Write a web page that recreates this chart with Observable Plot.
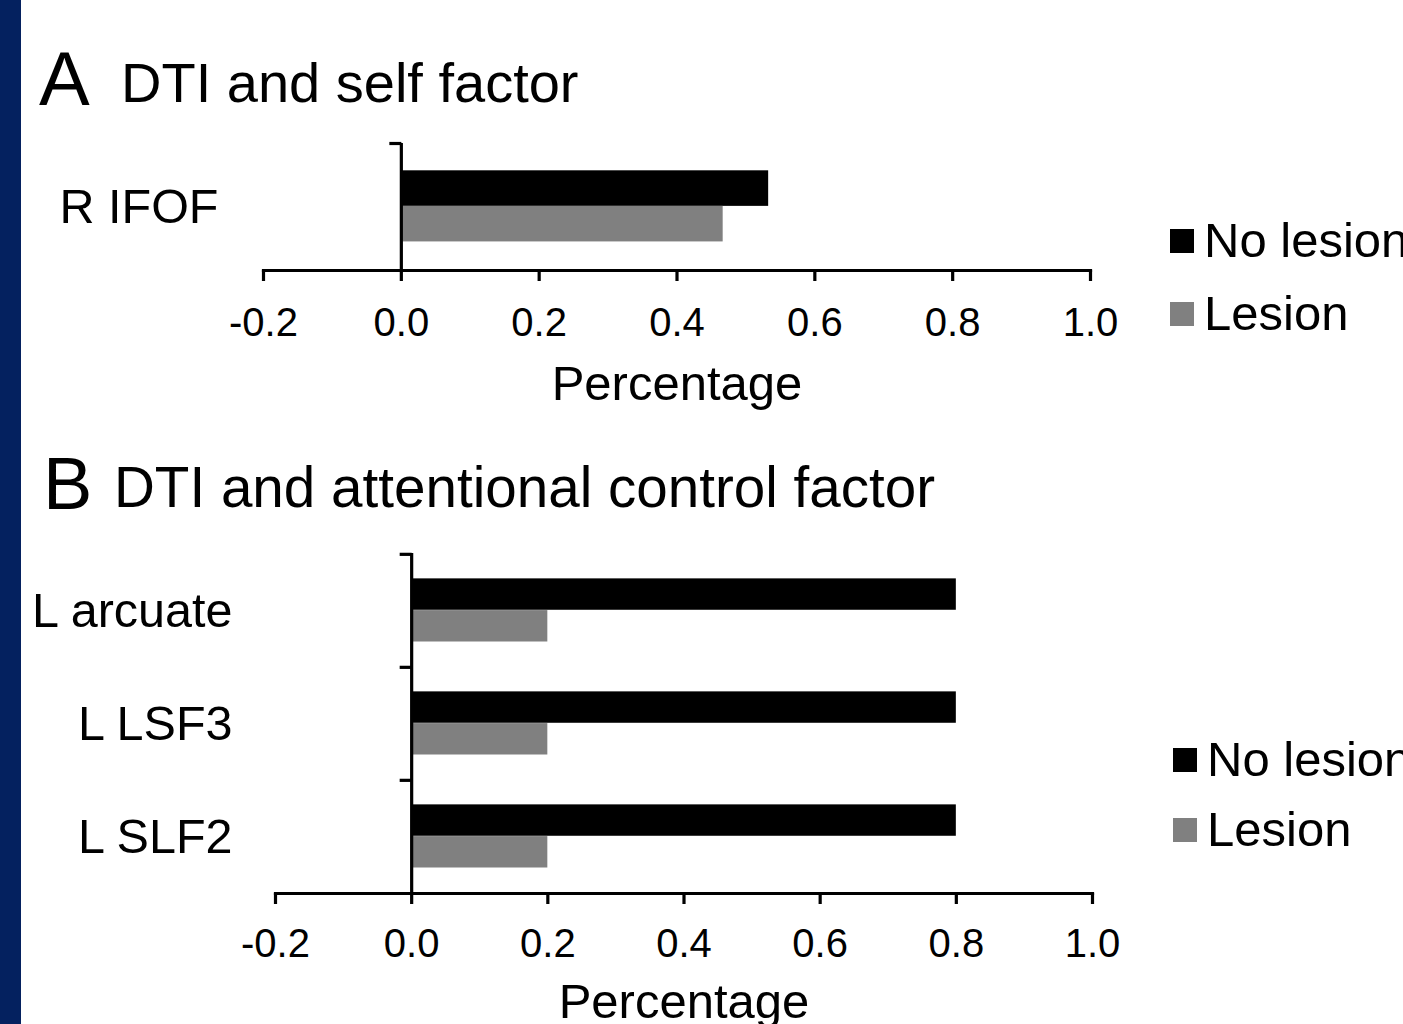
<!DOCTYPE html>
<html>
<head>
<meta charset="utf-8">
<script src="https://cdn.jsdelivr.net/npm/d3@7"></script>
<script src="https://cdn.jsdelivr.net/npm/@observablehq/plot@0.6"></script>
<style>
  html, body { margin: 0; padding: 0; background: #fff; }
  body { width: 1403px; height: 1024px; overflow: hidden; position: relative;
         font-family: "Liberation Sans", Arial, sans-serif; color: #000; }
  .strip { position: absolute; left: 0; top: 0; width: 21px; height: 1024px; background: #04215f; }
  .abs { position: absolute; white-space: nowrap; line-height: 1; }
  .panel { position: absolute; left: 0; }
  .sw { position: absolute; width: 24px; height: 24px; }
</style>
</head>
<body>
<div class="strip"></div>
<div id="root"></div>
<script>
// ---------------- data ----------------
const panelALetter = "A";
const panelATitle = "DTI and self factor";
const panelACategories = ["R IFOF"];
const panelANoLesion = [0.533];
const panelALesion = [0.467];

const panelBLetter = "B";
const panelBTitle = "DTI and attentional control factor";
const panelBCategories = ["L arcuate", "L LSF3", "L SLF2"];
const panelBNoLesion = [0.8, 0.8, 0.8];
const panelBLesion = [0.2, 0.2, 0.2];

const seriesNames = ["No lesion", "Lesion"];
const xTicks = [-0.2, 0.0, 0.2, 0.4, 0.6, 0.8, 1.0];
const xDomain = [-0.2, 1.0];
const axisTitle = "Percentage";

// ---------------- styles / layout ----------------
const seriesColors = {"No lesion": "#000000", "Lesion": "#808080"};
const FONT = '"Liberation Sans", Arial, sans-serif';
const root = document.getElementById("root");

function addText(text, left, top, size) {
  const d = document.createElement("div");
  d.className = "abs";
  d.style.left = left + "px";
  d.style.top = top + "px";
  d.style.fontSize = size + "px";
  d.textContent = text;
  root.appendChild(d);
  return d;
}

function addLegend(left, top1, top2) {
  const tops = [top1, top2];
  seriesNames.forEach((name, i) => {
    const sw = document.createElement("div");
    sw.className = "sw";
    sw.style.left = left + "px";
    sw.style.top = tops[i] + "px";
    sw.style.background = seriesColors[name];
    root.appendChild(sw);
    addText(name, left + 34, tops[i] + 24 + 4 - 0.8465 * 49, 49);
  });
}

function makePanel(cats, noLesion, lesion, L) {
  const rows = [];
  cats.forEach((c, i) => {
    rows.push({cat: c, series: seriesNames[0], value: noLesion[i]});
    rows.push({cat: c, series: seriesNames[1], value: lesion[i]});
  });
  const innerH = L.height - L.marginTop - L.marginBottom;
  const bw = innerH / cats.length;
  const b0 = 0.215, b1 = 0.495, b2 = 0.775; // Excel-like gap fractions
  const tickSymbol = {draw(ctx) { ctx.moveTo(-12, 0); ctx.lineTo(0, 0); }};

  const chart = Plot.plot({
    width: 1403,
    height: L.height,
    marginTop: L.marginTop,
    marginBottom: L.marginBottom,
    marginLeft: L.marginLeft,
    marginRight: L.marginRight,
    style: {fontFamily: FONT, fontSize: "40px", color: "#000", background: "transparent", overflow: "visible"},
    x: {domain: xDomain, label: null},
    y: {domain: cats, padding: 0, label: null},
    marks: [
      Plot.barX(rows.filter(d => d.series === seriesNames[0]), {
        x1: () => 0, x2: "value", y: "cat", fill: seriesColors[seriesNames[0]],
        insetTop: b0 * bw, insetBottom: (1 - b1) * bw
      }),
      Plot.barX(rows.filter(d => d.series === seriesNames[1]), {
        x1: () => 0, x2: "value", y: "cat", fill: seriesColors[seriesNames[1]],
        insetTop: b1 * bw, insetBottom: (1 - b2) * bw
      }),
      Plot.ruleX([0], {stroke: "#000", strokeWidth: 3.2}),
      Plot.dot(cats, {x: () => 0, y: d => d, dy: -bw / 2, symbol: tickSymbol,
        stroke: "#000", strokeWidth: 3.2, fill: "none", strokeLinejoin: "round"}),
      Plot.frame({anchor: "bottom", stroke: "#000", strokeWidth: 3.2}),
      Plot.axisX({ticks: xTicks, tickSize: 11, tickPadding: L.tickPad, strokeWidth: 3.2,
        tickFormat: d => d.toFixed(1), fontSize: 40, label: null}),
      Plot.axisY({anchor: "left", tickSize: 0, tickPadding: L.catPad, fontSize: 48.5, label: null}),
      Plot.text([axisTitle], {frameAnchor: "bottom", dy: L.titleDy, fontSize: 49, text: d => d})
    ]
  });
  const wrap = document.createElement("div");
  wrap.className = "panel";
  wrap.style.top = L.top + "px";
  wrap.appendChild(chart);
  root.appendChild(wrap);
}

// Panel A
addText(panelALetter, 39, 105 - 0.8465 * 76, 76);
addText(panelATitle, 121, 102 - 0.8465 * 56, 56);
makePanel(panelACategories, panelANoLesion, panelALesion, {
  top: 100, height: 320, marginTop: 43, marginBottom: 150,
  marginLeft: 263, marginRight: 313, tickPad: 26, catPad: 45, titleDy: 129
});
addLegend(1170, 229, 302);

// Panel B
addText(panelBLetter, 43, 510 - 0.8465 * 74, 74);
addText(panelBTitle, 114, 508 - 0.8465 * 56.6, 56.6);
makePanel(panelBCategories, panelBNoLesion, panelBLesion, {
  top: 500, height: 524, marginTop: 53, marginBottom: 131,
  marginLeft: 275, marginRight: 311, tickPad: 24, catPad: 43, titleDy: 124
});
addLegend(1173, 748, 818);
</script>
</body>
</html>
